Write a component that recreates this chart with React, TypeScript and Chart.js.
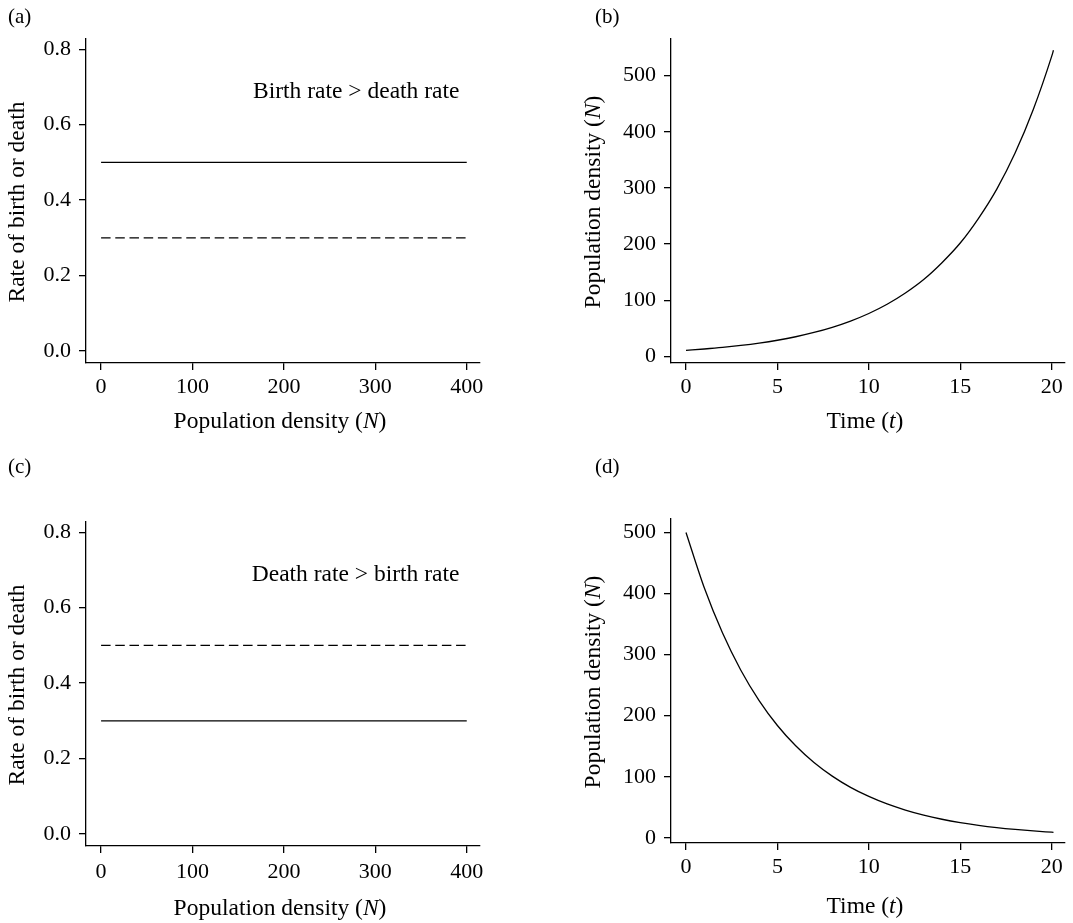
import React, { useEffect, useRef } from "react";
import { Chart, registerables } from "chart.js";

Chart.register(...registerables);

const FONT = "'Liberation Serif', 'DejaVu Serif', serif";
const INK = "#000";
const TITLE_SIZE = 23.5;
const TICK_SIZE = 22;
const LABEL_SIZE = 21;

// ---- Panels (a) and (c): rates of birth / death vs population density ----
const densityN = [0, 400];
const birthRateA = [0.5, 0.5];
const deathRateA = [0.3, 0.3];
const birthRateC = [0.3, 0.3];
const deathRateC = [0.5, 0.5];

// ---- Panels (b) and (d): population density over time ----
const timeT = [0, 1, 2, 3, 4, 5, 6, 7, 8, 9, 10, 11, 12, 13, 14, 15, 16, 17, 18, 19, 20, 20.1];
const growthN = [11, 13.4, 16.2, 19.7, 23.9, 29, 35.2, 42.8, 52, 63.1, 76.6, 93, 113, 137, 167, 202, 246, 298, 362, 440, 534, 545];
const declineN = [500, 409.4, 335.2, 274.4, 224.7, 183.9, 150.6, 123.3, 101, 82.6, 67.7, 55.4, 45.4, 37.1, 30.4, 24.9, 20.4, 16.7, 13.7, 11.2, 9.2, 9.0];

// ---- Tick values / labels ----
const rateTicks = [0, 0.2, 0.4, 0.6, 0.8];
const rateTickLabels = ["0.0", "0.2", "0.4", "0.6", "0.8"];
const densityTicks = [0, 100, 200, 300, 400];
const densityTickLabels = ["0", "100", "200", "300", "400"];
const timeTicks = [0, 5, 10, 15, 20];
const timeTickLabels = ["0", "5", "10", "15", "20"];
const popTicks = [0, 100, 200, 300, 400, 500];
const popTickLabels = ["0", "100", "200", "300", "400", "500"];

type Run = { text: string; italic?: boolean };

const densityTitle: Run[] = [{ text: "Population density (" }, { text: "N", italic: true }, { text: ")" }];
const timeTitle: Run[] = [{ text: "Time (" }, { text: "t", italic: true }, { text: ")" }];
const rateTitle: Run[] = [{ text: "Rate of birth or death" }];

function zip(xs: number[], ys: number[]) {
  return xs.map((x, i) => ({ x, y: ys[i] }));
}

function drawRuns(ctx: CanvasRenderingContext2D, runs: Run[], cx: number, y: number, size: number) {
  const fonts = runs.map((r) => `${r.italic ? "italic " : ""}${size}px ${FONT}`);
  let total = 0;
  const widths = runs.map((r, i) => {
    ctx.font = fonts[i];
    const w = ctx.measureText(r.text).width;
    total += w;
    return w;
  });
  let x = cx - total / 2;
  ctx.textAlign = "left";
  ctx.textBaseline = "alphabetic";
  runs.forEach((r, i) => {
    ctx.font = fonts[i];
    ctx.fillText(r.text, x, y);
    x += widths[i];
  });
}

const panelTextPlugin = {
  id: "panelText",
  afterDraw(chart: any, _args: any, opts: any) {
    const { ctx, chartArea } = chart;
    ctx.save();
    ctx.fillStyle = INK;
    // panel label
    ctx.font = `${LABEL_SIZE}px ${FONT}`;
    ctx.textAlign = "left";
    ctx.textBaseline = "alphabetic";
    ctx.fillText(opts.label, opts.labelX, opts.labelY);
    // x title
    drawRuns(ctx, opts.xTitle, (chartArea.left + chartArea.right) / 2 + opts.xTitleShift, chartArea.bottom + opts.xTitleOffset, TITLE_SIZE);
    // note
    if (opts.note) {
      ctx.font = `${TITLE_SIZE}px ${FONT}`;
      ctx.textAlign = "right";
      ctx.textBaseline = "alphabetic";
      ctx.fillText(opts.note, chart.scales.x.getPixelForValue(opts.noteX), chart.scales.y.getPixelForValue(opts.noteY));
    }
    // y title
    ctx.translate(opts.yTitleX, (chartArea.top + chartArea.bottom) / 2 + 1);
    ctx.rotate(-Math.PI / 2);
    drawRuns(ctx, opts.yTitle, 0, 0, TITLE_SIZE);
    ctx.restore();
  },
};

type PanelSpec = {
  datasets: any[];
  xMin: number; xMax: number; xTicks: number[]; xLabels: string[];
  yMin: number; yMax: number; yTicks: number[]; yLabels: string[];
  padTop: number; padRight: number; yWidth: number; xHeight: number; xTickPad: number;
  text: any;
};

function axisCommon() {
  return {
    grid: { display: true, drawOnChartArea: false, drawTicks: true, tickLength: 7, color: INK, lineWidth: 1.3 },
    border: { display: true, color: INK, width: 1.3 },
  };
}

function makeConfig(p: PanelSpec): any {
  return {
    type: "line",
    data: { datasets: p.datasets },
    options: {
      responsive: false,
      animation: false,
      events: [],
      layout: { padding: { top: p.padTop, right: p.padRight, bottom: 0, left: 0 } },
      elements: { point: { radius: 0 } },
      plugins: {
        legend: { display: false },
        tooltip: { enabled: false },
        title: { display: false },
        panelText: p.text,
      },
      scales: {
        x: {
          type: "linear",
          min: p.xMin,
          max: p.xMax,
          ...axisCommon(),
          afterBuildTicks: (s: any) => { s.ticks = p.xTicks.map((v) => ({ value: v })); },
          afterFit: (s: any) => { s.height = p.xHeight; },
          ticks: {
            autoSkip: false, maxRotation: 0, minRotation: 0, padding: p.xTickPad, color: INK,
            font: { family: FONT, size: TICK_SIZE },
            callback: (_v: any, i: number) => p.xLabels[i],
          },
        },
        y: {
          type: "linear",
          min: p.yMin,
          max: p.yMax,
          ...axisCommon(),
          afterBuildTicks: (s: any) => { s.ticks = p.yTicks.map((v) => ({ value: v })); },
          afterFit: (s: any) => { s.width = p.yWidth; },
          ticks: {
            autoSkip: false, padding: 8, color: INK,
            font: { family: FONT, size: TICK_SIZE },
            callback: (_v: any, i: number) => p.yLabels[i],
          },
        },
      },
    },
    plugins: [panelTextPlugin],
  };
}

const solid = (data: any[]) => ({ data, borderColor: INK, borderWidth: 1.3, pointRadius: 0, fill: false, tension: 0 });
const dashed = (data: any[]) => ({ ...solid(data), borderDash: [9.5, 4.7] });
const curve = (data: any[]) => ({ ...solid(data), cubicInterpolationMode: "monotone" });

const panels: { left: number; top: number; width: number; height: number; spec: PanelSpec }[] = [
  {
    left: 0, top: 0, width: 536, height: 445,
    spec: {
      datasets: [solid(zip(densityN, birthRateA)), dashed(zip(densityN, deathRateA))],
      xMin: -16.5, xMax: 414.5, xTicks: densityTicks, xLabels: densityTickLabels,
      yMin: -0.032, yMax: 0.827, yTicks: rateTicks, yLabels: rateTickLabels,
      padTop: 39, padRight: 56, yWidth: 86, xHeight: 82, xTickPad: 4.5,
      text: {
        label: "(a)", labelX: 8, labelY: 23,
        xTitle: densityTitle, xTitleShift: -3, xTitleOffset: 64.5,
        yTitle: rateTitle, yTitleX: 23.5,
        note: "Birth rate > death rate", noteX: 392, noteY: 0.67,
      },
    },
  },
  {
    left: 536, top: 0, width: 537, height: 445,
    spec: {
      datasets: [curve(zip(timeT, growthN))],
      xMin: -0.82, xMax: 20.73, xTicks: timeTicks, xLabels: timeTickLabels,
      yMin: -11.5, yMax: 565, yTicks: popTicks, yLabels: popTickLabels,
      padTop: 39, padRight: 8, yWidth: 135, xHeight: 82, xTickPad: 4.5,
      text: {
        label: "(b)", labelX: 59, labelY: 23,
        xTitle: timeTitle, xTitleShift: -3, xTitleOffset: 64.5,
        yTitle: densityTitle, yTitleX: 64,
      },
    },
  },
  {
    left: 0, top: 445, width: 536, height: 478,
    spec: {
      datasets: [solid(zip(densityN, birthRateC)), dashed(zip(densityN, deathRateC))],
      xMin: -16.5, xMax: 414.5, xTicks: densityTicks, xLabels: densityTickLabels,
      yMin: -0.032, yMax: 0.827, yTicks: rateTicks, yLabels: rateTickLabels,
      padTop: 77, padRight: 56, yWidth: 86, xHeight: 77, xTickPad: 6,
      text: {
        label: "(c)", labelX: 8, labelY: 28,
        xTitle: densityTitle, xTitleShift: -3, xTitleOffset: 69,
        yTitle: rateTitle, yTitleX: 23.5,
        note: "Death rate > birth rate", noteX: 392, noteY: 0.67,
      },
    },
  },
  {
    left: 536, top: 445, width: 537, height: 478,
    spec: {
      datasets: [curve(zip(timeT, declineN))],
      xMin: -0.82, xMax: 20.73, xTicks: timeTicks, xLabels: timeTickLabels,
      yMin: -8.5, yMax: 522, yTicks: popTicks, yLabels: popTickLabels,
      padTop: 74, padRight: 8, yWidth: 135, xHeight: 80, xTickPad: 4.5,
      text: {
        label: "(d)", labelX: 59, labelY: 28,
        xTitle: timeTitle, xTitleShift: -3, xTitleOffset: 69.5,
        yTitle: densityTitle, yTitleX: 64,
      },
    },
  },
];

function Panel({ left, top, width, height, spec }: { left: number; top: number; width: number; height: number; spec: PanelSpec }) {
  const ref = useRef<HTMLCanvasElement | null>(null);
  useEffect(() => {
    if (!ref.current) return;
    const chart = new Chart(ref.current, makeConfig(spec));
    return () => chart.destroy();
  }, []);
  return (
    <canvas
      ref={ref}
      width={width}
      height={height}
      style={{ position: "absolute", left, top, width, height, display: "block" }}
    />
  );
}

export default function App() {
  return (
    <div style={{ position: "absolute", left: 0, top: 0, width: 1073, height: 923, background: "#fff", overflow: "hidden" }}>
      {panels.map((p, i) => (
        <Panel key={i} {...p} />
      ))}
    </div>
  );
}
